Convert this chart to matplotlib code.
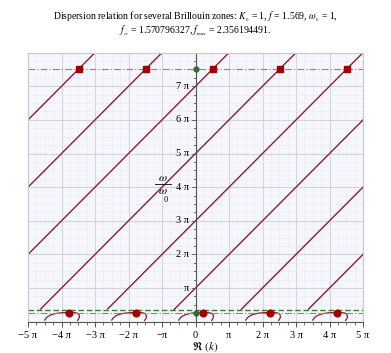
import numpy as np
import matplotlib
matplotlib.use("Agg")
import matplotlib.pyplot as plt
from matplotlib.ticker import MultipleLocator, FixedLocator
from matplotlib.lines import Line2D

plt.rcParams['font.family'] = ['Liberation Serif', 'DejaVu Serif']
plt.rcParams['mathtext.fontset'] = 'stix'

PI = np.pi
# ---- data ----
line_offsets = [-3, -1, 1, 3, 5, 7, 9, 11]          # omega = k + c*pi
omega_top = 23.65                                    # upper dash-dot level
omega_low = 0.84                                     # lower dash-dot level
omega_green = 1.12                                   # green dashed level
zone_centers = [-2, -1, 0, 1, 2]                     # multiples of 2*pi
dot_offset = 0.23                                    # (units of pi) within zone
arc_k = [-0.50, -0.46, -0.40, -0.32, -0.22, -0.10, 0.05, 0.23, 0.36, 0.44, 0.49,
         0.52, 0.535, 0.53, 0.51, 0.48]
arc_w = [0.15, 0.33, 0.50, 0.63, 0.73, 0.80, 0.845, 0.86, 0.85, 0.82, 0.76,
         0.66, 0.52, 0.38, 0.24, 0.12]
xtick_vals = [-5, -4, -3, -2, -1, 0, 1, 2, 3, 4, 5]
xtick_labels = ["\u22125 \u03c0", "\u22124 \u03c0", "\u22123 \u03c0", "\u22122 \u03c0", "\u2212\u03c0",
                "0", "\u03c0", "2 \u03c0", "3 \u03c0", "4 \u03c0", "5 \u03c0"]
ytick_vals = [1, 2, 3, 4, 5, 6, 7]
ytick_labels = ["\u03c0", "2 \u03c0", "3 \u03c0", "4 \u03c0", "5 \u03c0", "6 \u03c0", "7 \u03c0"]

W, H = 391, 353
fig = plt.figure(figsize=(W/100, H/100), dpi=100)
ax = fig.add_axes([28/W, 1-322/H, 335/W, 269/H])
xmin, xmax = -5*PI, 5*PI
ymin, ymax = -0.03, 25.1
ax.set_xlim(xmin, xmax)
ax.set_ylim(ymin, ymax)
ax.set_facecolor("#f6f6fd")

# grid
ax.xaxis.set_major_locator(FixedLocator([v*PI for v in xtick_vals]))
ax.yaxis.set_major_locator(FixedLocator([v*PI for v in ytick_vals]))
ax.xaxis.set_minor_locator(MultipleLocator(PI/4))
ax.yaxis.set_minor_locator(MultipleLocator(PI/4))
ax.grid(which='major', color='#d4d4dc', lw=0.8)
ax.grid(which='minor', color='#ebebf3', lw=0.5)
ax.set_axisbelow(True)

line_col = "#8b1e2e"
# diagonal lines
kk = np.linspace(xmin, xmax, 400)
for c in line_offsets:
    w = kk + c*PI
    m = w >= omega_green
    ax.plot(kk[m], w[m], color=line_col, lw=1.0)

# arcs
for zc in zone_centers:
    ax.plot((np.array(arc_k) + 2*zc)*PI, arc_w, color=line_col, lw=0.9)

# level lines
ax.axhline(omega_green, color="#2a8a2a", lw=1.0, ls=(0, (4, 2)))
ax.axhline(omega_low, color="#cc6a6a", lw=0.8, ls=(0, (6, 2, 1, 2)))
ax.axhline(omega_top, color="#cc6a6a", lw=0.8, ls=(0, (6, 2, 1, 2)))

# dots
top_k = [omega_top - c*PI for c in line_offsets]
top_k = [k for k in top_k if xmin <= k <= xmax]
ax.plot(top_k, [omega_top]*len(top_k), 's', color="#a00000", ms=4.2, mec="#a00000", clip_on=False)
low_k = [(2*zc + dot_offset)*PI for zc in zone_centers]
ax.plot(low_k, [omega_low]*len(low_k), 'o', color="#a00000", ms=4.8, clip_on=False)
ax.plot([0, 0], [omega_low, omega_top], 'o', color="#1e7a1e", ms=3.5, ls='none')

# spines
for s in ['top', 'right', 'left']:
    ax.spines[s].set_color('#c8c8cc')
    ax.spines[s].set_linewidth(0.8)
ax.spines['bottom'].set_color('#555555')
ax.spines['bottom'].set_linewidth(0.8)
ax.axvline(0, color='#555555', lw=0.8)

ax.set_xticklabels(xtick_labels)
ax.set_yticklabels(ytick_labels)
ax.tick_params(axis='x', which='major', length=3.5, width=0.7, color='#555555', labelsize=7.5, pad=3)
ax.tick_params(axis='x', which='minor', length=2, width=0.6, color='#555555')
ax.tick_params(axis='y', which='both', left=False, labelleft=False)

# y tick marks and labels along the center axis
for v in np.arange(0.25, 8.0, 0.25):
    L = 0.3 if abs(v - round(v)) < 1e-9 else 0.18
    ax.plot([0, -L], [v*PI, v*PI], color='#555555', lw=0.6)
for v, lab in zip(ytick_vals, ytick_labels):
    ax.text(-0.2*PI, v*PI, lab, ha='right', va='center', fontsize=7.5)

# y label: omega over omega_0
fig.text(163/W, 1-178/H, r"$\omega$", ha='center', va='center', fontsize=8.5)
fig.add_artist(Line2D([155/W, 171/W], [1-184/H, 1-184/H], color='black', lw=0.6))
fig.text(163/W, 1-191/H, r"$\omega$", ha='center', va='center', fontsize=8.5)
fig.text(166/W, 1-200/H, "0", ha='center', va='center', fontsize=6)

# x label
fig.text(205/W, 1-347/H, r"$\Re\ (k)$", ha='center', va='center', fontsize=8)

fig.text(0.5, 1-17/H, r"Dispersion relation for several Brillouin zones: $K_{_0}$ = 1, $f$ = 1.569, $\omega_{_0}$ = 1,",
         ha='center', va='center', fontsize=7)
fig.text(0.5, 1-31/H, r"$f_{_{cr}}$ = 1.570796327, $f_{_{\max}}$ = 2.356194491.",
         ha='center', va='center', fontsize=7)

fig.savefig("out.png", dpi=100)
